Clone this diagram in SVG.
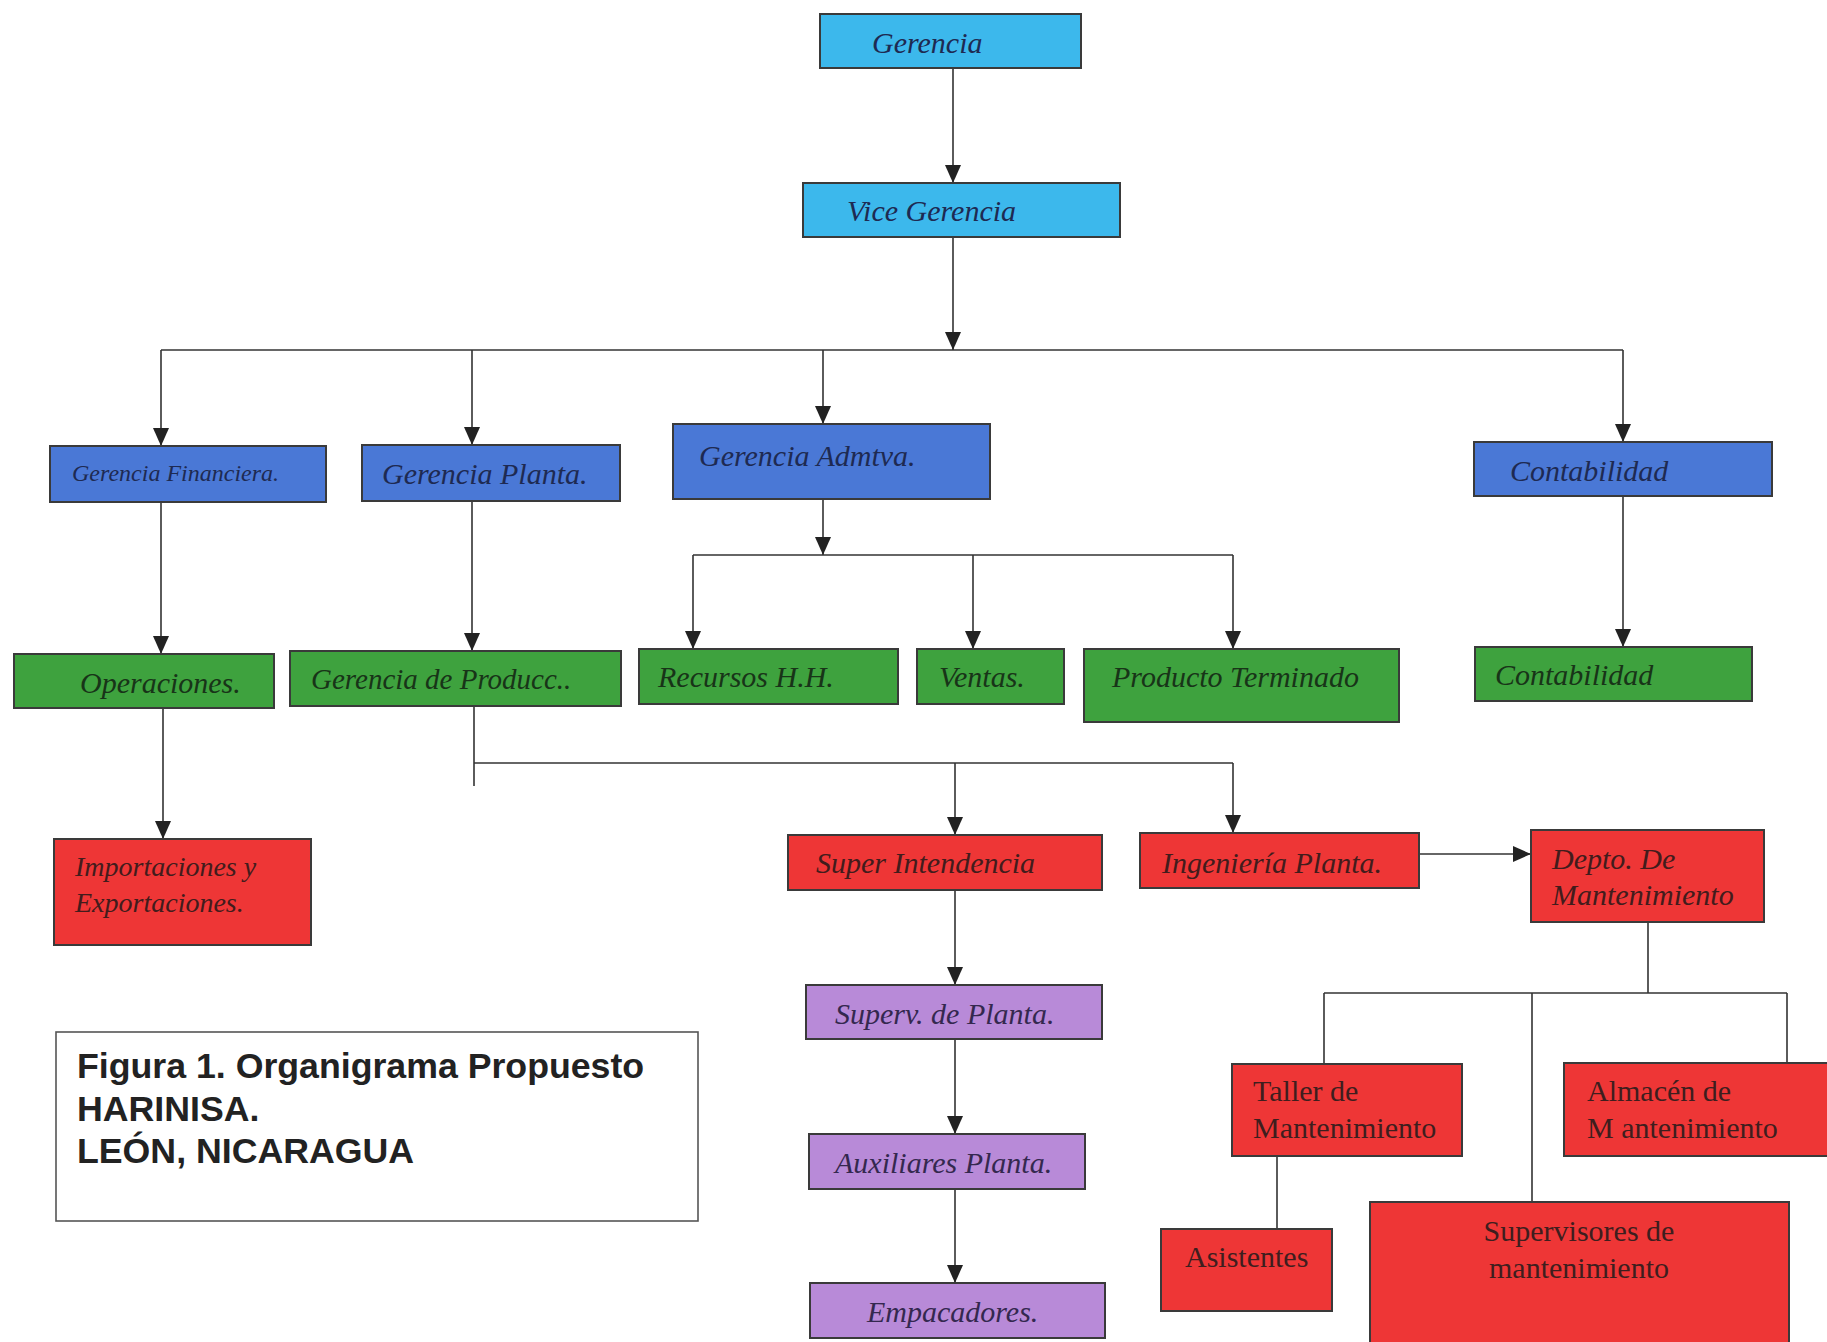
<svg xmlns="http://www.w3.org/2000/svg" width="1827" height="1342" viewBox="0 0 1827 1342">
<style>
.box{stroke:#3a3a3a;stroke-width:2}
.lb{fill:#3cb8ec}
.bl{fill:#4a78d6}
.gr{fill:#3ea23e}
.rd{fill:#ee3636}
.pu{fill:#b88ad8}
.t{font-family:"Liberation Serif","Times New Roman",serif;font-style:italic;font-size:30px}
.tr{font-family:"Liberation Serif","Times New Roman",serif;font-size:30px;fill:#3e1e1e}
.tb{fill:#1e2a52}
.tg{fill:#183418}
.trd{fill:#421c1c}
.tp{fill:#34284f}
.ln{stroke:#333;stroke-width:1.6;fill:none}
.cap{font-family:"Liberation Sans",Arial,sans-serif;font-weight:bold;font-size:35.7px;fill:#222}
</style>
<defs>
<marker id="ah" viewBox="0 0 18 16" refX="18" refY="8" markerWidth="18" markerHeight="16" markerUnits="userSpaceOnUse" orient="auto">
<path d="M0,0 L18,8 L0,16 Z" fill="#222"/>
</marker>
</defs>
<rect width="1827" height="1342" fill="#fff"/>

<g id="connectors">
<line class="ln" x1="953" y1="68" x2="953" y2="183" marker-end="url(#ah)"/>
<line class="ln" x1="953" y1="237" x2="953" y2="350" marker-end="url(#ah)"/>
<line class="ln" x1="161" y1="350" x2="1623" y2="350"/>
<line class="ln" x1="161" y1="350" x2="161" y2="446" marker-end="url(#ah)"/>
<line class="ln" x1="472" y1="350" x2="472" y2="445" marker-end="url(#ah)"/>
<line class="ln" x1="823" y1="350" x2="823" y2="424" marker-end="url(#ah)"/>
<line class="ln" x1="1623" y1="350" x2="1623" y2="442" marker-end="url(#ah)"/>
<line class="ln" x1="161" y1="502" x2="161" y2="654" marker-end="url(#ah)"/>
<line class="ln" x1="472" y1="501" x2="472" y2="651" marker-end="url(#ah)"/>
<line class="ln" x1="823" y1="499" x2="823" y2="555" marker-end="url(#ah)"/>
<line class="ln" x1="693" y1="555" x2="1233" y2="555"/>
<line class="ln" x1="693" y1="555" x2="693" y2="649" marker-end="url(#ah)"/>
<line class="ln" x1="973" y1="555" x2="973" y2="649" marker-end="url(#ah)"/>
<line class="ln" x1="1233" y1="555" x2="1233" y2="649" marker-end="url(#ah)"/>
<line class="ln" x1="1623" y1="496" x2="1623" y2="647" marker-end="url(#ah)"/>
<line class="ln" x1="163" y1="708" x2="163" y2="839" marker-end="url(#ah)"/>
<line class="ln" x1="474" y1="706" x2="474" y2="786"/>
<line class="ln" x1="474" y1="763" x2="1233" y2="763"/>
<line class="ln" x1="955" y1="763" x2="955" y2="835" marker-end="url(#ah)"/>
<line class="ln" x1="1233" y1="763" x2="1233" y2="833" marker-end="url(#ah)"/>
<line class="ln" x1="1419" y1="854" x2="1531" y2="854" marker-end="url(#ah)"/>
<line class="ln" x1="955" y1="890" x2="955" y2="985" marker-end="url(#ah)"/>
<line class="ln" x1="955" y1="1039" x2="955" y2="1134" marker-end="url(#ah)"/>
<line class="ln" x1="955" y1="1189" x2="955" y2="1283" marker-end="url(#ah)"/>
<line class="ln" x1="1648" y1="922" x2="1648" y2="993"/>
<line class="ln" x1="1324" y1="993" x2="1787" y2="993"/>
<line class="ln" x1="1324" y1="993" x2="1324" y2="1064"/>
<line class="ln" x1="1532" y1="993" x2="1532" y2="1202"/>
<line class="ln" x1="1787" y1="993" x2="1787" y2="1063"/>
<line class="ln" x1="1277" y1="1156" x2="1277" y2="1229"/>
</g>

<g id="gerencia"><rect class="box lb" x="820" y="14" width="261" height="54"/><text class="t tb" x="872" y="53">Gerencia</text></g>
<g id="vice-gerencia"><rect class="box lb" x="803" y="183" width="317" height="54"/><text class="t tb" x="847" y="221">Vice Gerencia</text></g>

<g id="gerencia-financiera"><rect class="box bl" x="50" y="446" width="276" height="56"/><text class="t tb" x="72" y="481" style="font-size:24px">Gerencia Financiera.</text></g>
<g id="gerencia-planta"><rect class="box bl" x="362" y="445" width="258" height="56"/><text class="t tb" x="382" y="484">Gerencia Planta.</text></g>
<g id="gerencia-admtva"><rect class="box bl" x="673" y="424" width="317" height="75"/><text class="t tb" x="699" y="466">Gerencia Admtva.</text></g>
<g id="contabilidad-1"><rect class="box bl" x="1474" y="442" width="298" height="54"/><text class="t tb" x="1510" y="481">Contabilidad</text></g>

<g id="operaciones"><rect class="box gr" x="14" y="654" width="260" height="54"/><text class="t tg" x="80" y="693">Operaciones.</text></g>
<g id="gerencia-produccion"><rect class="box gr" x="290" y="651" width="331" height="55"/><text class="t tg" x="311" y="689" style="font-size:29px">Gerencia de Producc..</text></g>
<g id="recursos-hh"><rect class="box gr" x="639" y="649" width="259" height="55"/><text class="t tg" x="658" y="687">Recursos H.H.</text></g>
<g id="ventas"><rect class="box gr" x="917" y="649" width="147" height="55"/><text class="t tg" x="939" y="687">Ventas.</text></g>
<g id="producto-terminado"><rect class="box gr" x="1084" y="649" width="315" height="73"/><text class="t tg" x="1112" y="687">Producto Terminado</text></g>
<g id="contabilidad-2"><rect class="box gr" x="1475" y="647" width="277" height="54"/><text class="t tg" x="1495" y="685">Contabilidad</text></g>

<g id="importaciones"><rect class="box rd" x="54" y="839" width="257" height="106"/><text class="t trd" x="75" y="876" style="font-size:28px">Importaciones y</text><text class="t trd" x="75" y="912" style="font-size:28px">Exportaciones.</text></g>
<g id="super-intendencia"><rect class="box rd" x="788" y="835" width="314" height="55"/><text class="t trd" x="816" y="873">Super Intendencia</text></g>
<g id="ingenieria-planta"><rect class="box rd" x="1140" y="833" width="279" height="55"/><text class="t trd" x="1162" y="873">Ingeniería Planta.</text></g>
<g id="depto-mantenimiento"><rect class="box rd" x="1531" y="830" width="233" height="92"/><text class="t trd" x="1552" y="869">Depto. De</text><text class="t trd" x="1552" y="905">Mantenimiento</text></g>
<g id="taller"><rect class="box rd" x="1232" y="1064" width="230" height="92"/><text class="tr" x="1253" y="1101">Taller de</text><text class="tr" x="1253" y="1138">Mantenimiento</text></g>
<g id="almacen"><rect class="box rd" x="1564" y="1063" width="275" height="93"/><text class="tr" x="1587" y="1101">Almacén de</text><text class="tr" x="1587" y="1138">M antenimiento</text></g>
<g id="asistentes"><rect class="box rd" x="1161" y="1229" width="171" height="82"/><text class="tr" x="1185" y="1267">Asistentes</text></g>
<g id="supervisores"><rect class="box rd" x="1370" y="1202" width="419" height="150"/><text class="tr" x="1579" y="1241" text-anchor="middle">Supervisores de</text><text class="tr" x="1579" y="1278" text-anchor="middle">mantenimiento</text></g>

<g id="superv-planta"><rect class="box pu" x="806" y="985" width="296" height="54"/><text class="t tp" x="835" y="1024">Superv. de Planta.</text></g>
<g id="auxiliares-planta"><rect class="box pu" x="809" y="1134" width="276" height="55"/><text class="t tp" x="835" y="1173">Auxiliares Planta.</text></g>
<g id="empacadores"><rect class="box pu" x="810" y="1283" width="295" height="55"/><text class="t tp" x="867" y="1322">Empacadores.</text></g>

<g id="caption"><rect x="56" y="1032" width="642" height="189" fill="#fff" stroke="#555" stroke-width="1.6"/><text class="cap" x="77" y="1078">Figura 1. Organigrama Propuesto</text><text class="cap" x="77" y="1121">HARINISA.</text><text class="cap" x="77" y="1163">LEÓN, NICARAGUA</text></g>
</svg>
